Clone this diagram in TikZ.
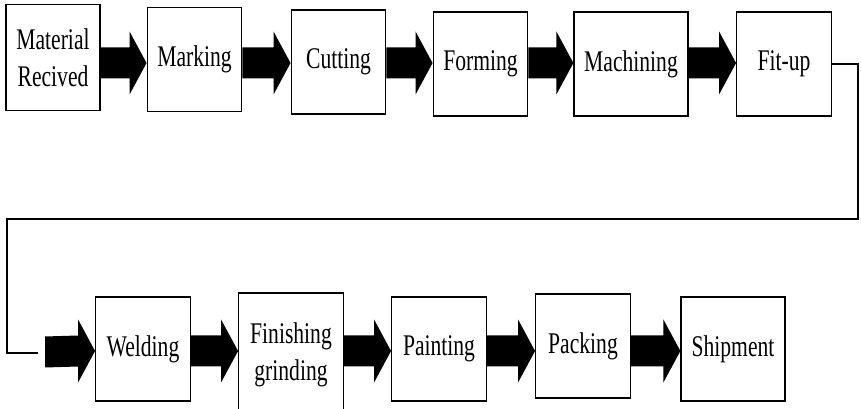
\documentclass[tikz,border=0pt]{standalone}
\usepackage{fontspec}
\setmainfont{Liberation Serif}[FakeStretch=0.72]
\usetikzlibrary{calc}

\begin{document}
\begin{tikzpicture}[x=0.75pt, y=-0.75pt,
  procbox/.style={draw=black, line width=0.9pt, minimum width=71pt, minimum height=78pt,
    inner sep=0pt, align=center, font=\fontsize{22.5}{27.5}\selectfont},
  blockarrow/.style={to path={($(\tikztostart)+(0,-15.5)$) -- ($(\tikztotarget)+(-17,-15.5)$)
    -- ($(\tikztotarget)+(-17,-31.5)$) -- (\tikztotarget) -- ($(\tikztotarget)+(-17,31.5)$)
    -- ($(\tikztotarget)+(-17,15.5)$) -- ($(\tikztostart)+(0,15.5)$) -- cycle}},
  loopline/.style={draw=black, line width=0.9pt}]
  \useasboundingbox (0,0) rectangle (861,409);

  \node[procbox, minimum width=70.5pt, minimum height=79pt](mat) at (53,57.5) {Material\\Recived};
  \node[procbox](mark) at (194.5,59.5) {Marking};
  \node[procbox](cut)  at (338.5,62) {Cutting};
  \node[procbox](form) at (480.5,64) {Forming};
  \node[procbox, minimum width=85.5pt](mach) at (631,64) {Machining};
  \node[procbox](fit)  at (784,64) {Fit-up};

  \node[procbox](weld) at (143,349) {Welding};
  \node[procbox, minimum width=78.5pt, minimum height=93pt](fin) at (291,355) {Finishing\\grinding};
  \node[procbox](paint) at (439,349) {Painting};
  \node[procbox](pack)  at (583,346) {Packing};
  \node[procbox, minimum width=78pt](ship) at (733,349) {Shipment};

  \coordinate (rowA) at (0,63);
  \coordinate (rowB) at (0,351);
  \coordinate (loopend) at (38,353);
  \coordinate (inlet) at (45,352);

  \foreach \a/\b in {mat/mark, mark/cut, cut/form, form/mach, mach/fit}
    \fill (\a.east |- rowA) to[blockarrow] (\b.west |- rowA);
  \foreach \a/\b in {weld/fin, fin/paint, paint/pack, pack/ship}
    \fill (\a.east |- rowB) to[blockarrow] (\b.west |- rowB);

  \draw[loopline] (fit.east) -| (858,219) -| (7,353) -- (loopend);
  \fill (inlet) to[blockarrow] (weld.west |- rowB);
\end{tikzpicture}
\end{document}
